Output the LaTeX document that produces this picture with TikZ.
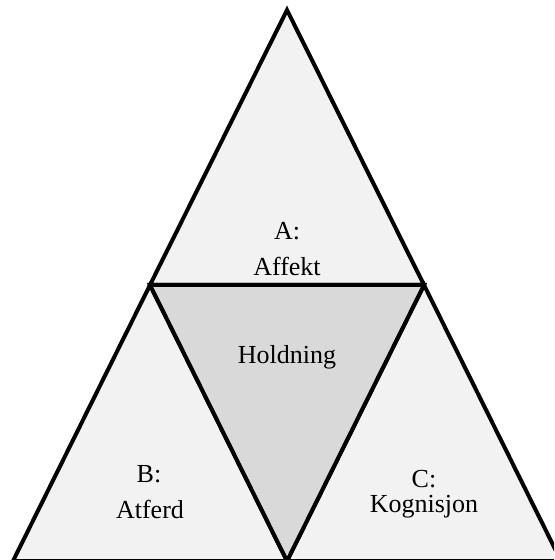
\documentclass[tikz,border=0pt]{standalone}
\usepackage{fontspec}
\setmainfont{Liberation Serif}
\definecolor{lightpart}{HTML}{F2F2F2}
\definecolor{midpart}{HTML}{D9D9D9}
\begin{document}
\begin{tikzpicture}[x=0.5pt,y=-0.5pt,font=\fontsize{13}{15}\selectfont,
  part/.style={draw=black,line width=2pt,line join=miter},
  lbl/.style={anchor=base,inner sep=0pt}]
\useasboundingbox (0,0) rectangle (554,560);
\clip (0,0) rectangle (554,560);
% corners and midpoints
\coordinate (top) at (287,10);
\coordinate (bl) at (13,561); \coordinate (br) at (561,561);
\coordinate (lmid) at (150,285); \coordinate (rmid) at (424,285);
\coordinate (bmid) at (287,561);
\filldraw[part,fill=lightpart] (top) -- (lmid) -- (rmid) -- cycle;
\filldraw[part,fill=lightpart] (lmid) -- (bl) -- (bmid) -- cycle;
\filldraw[part,fill=lightpart] (rmid) -- (bmid) -- (br) -- cycle;
\filldraw[part,fill=midpart] (lmid) -- (rmid) -- (bmid) -- cycle;
\node[lbl] (affa) at (287,240) {A:};
\node[lbl] (affb) at (287,276) {Affekt};
\node[lbl] (hold) at (287,363) {Holdning};
\node[lbl] (atfa) at (149,482) {B:};
\node[lbl] (atfb) at (150,518) {Atferd};
\node[lbl] (kogna) at (424,487) {C:};
\node[lbl] (kognb) at (424,512) {Kognisjon};
\end{tikzpicture}
\end{document}
